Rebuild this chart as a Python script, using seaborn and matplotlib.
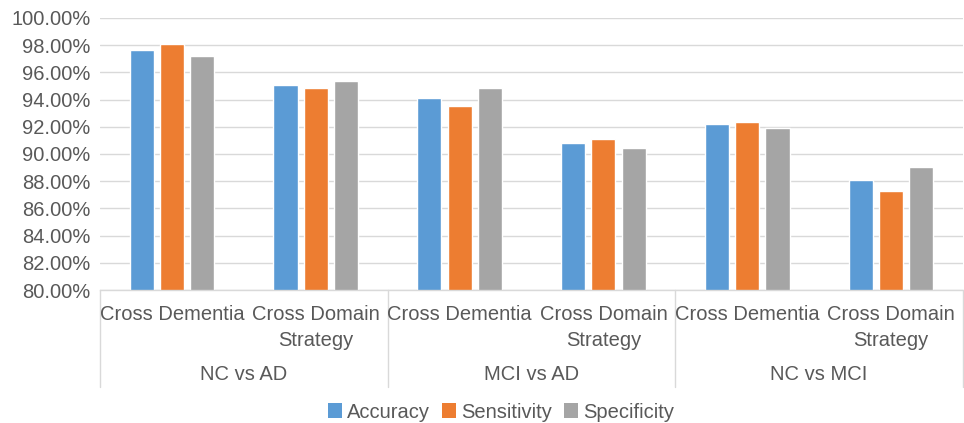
import numpy as np
import pandas as pd
import matplotlib
matplotlib.use("Agg")
import matplotlib.pyplot as plt
import matplotlib.transforms as mtransforms
from matplotlib.patches import Patch
import seaborn as sns

# Data
comparisons = ["NC vs AD", "MCI vs AD", "NC vs MCI"]
strategies = ["Cross Dementia", "Cross Domain\nStrategy"]
metrics = ["Accuracy", "Sensitivity", "Specificity"]
accuracy = [97.65, 95.10, 94.15, 90.80, 92.18, 88.07]
sensitivity = [98.08, 94.82, 93.55, 91.07, 92.35, 87.25]
specificity = [97.17, 95.37, 94.82, 90.45, 91.93, 89.07]
yticks = [80, 82, 84, 86, 88, 90, 92, 94, 96, 98, 100]

palette = ["#5B9BD5", "#ED7D31", "#A5A5A5"]
text_color = "#595959"
line_color = "#D9D9D9"
fs = 14.5

slots = [f"{c}|{s}" for c in comparisons for s in strategies]
rows = []
for m, vals in zip(metrics, [accuracy, sensitivity, specificity]):
    for slot, v in zip(slots, vals):
        rows.append({"slot": slot, "metric": m, "value": v})
df = pd.DataFrame(rows)

sns.set_theme(style="white")
plt.rcParams["font.family"] = ["Liberation Sans", "DejaVu Sans"]

fig = plt.figure(figsize=(9.64, 4.23), dpi=100)
ax = fig.add_axes([100 / 964, 1 - 290 / 423, 863 / 964, 272 / 423])

sns.barplot(data=df, x="slot", y="value", hue="metric", order=slots,
            hue_order=metrics, palette=palette, width=0.63, gap=0.2,
            saturation=1, legend=False, ax=ax)

ax.set_xlim(-0.5, len(slots) - 0.5)
ax.set_ylim(80, 100)
ax.set_yticks(yticks)
ax.set_yticklabels([f"{t:.2f}%" for t in yticks])
ax.set_xticks([])
ax.set_xlabel("")
ax.set_ylabel("")
ax.yaxis.grid(True, color=line_color, lw=1)
ax.set_axisbelow(True)
for side in ["top", "right", "left"]:
    ax.spines[side].set_visible(False)
ax.spines["bottom"].set_color(line_color)
ax.spines["bottom"].set_linewidth(1)
ax.tick_params(axis="y", length=0, pad=7, labelsize=fs, labelcolor=text_color)

# Hierarchical category axis
trans = mtransforms.blended_transform_factory(ax.transData, ax.transAxes)
n_s = len(strategies)
for k in range(len(comparisons) + 1):
    xb = k * n_s - 0.5
    ax.plot([xb, xb], [0, -97 / 272], transform=trans, color=line_color,
            lw=1, clip_on=False)
for i, slot in enumerate(slots):
    label = slot.split("|")[1]
    ax.text(i, -15 / 272, label, transform=trans, ha="center", va="top",
            fontsize=fs, color=text_color, linespacing=1.45)
for k, comp in enumerate(comparisons):
    xc = k * n_s + (n_s - 1) / 2
    ax.text(xc, -84 / 272, comp, transform=trans, ha="center", va="center",
            fontsize=fs, color=text_color)

handles = [Patch(facecolor=c, edgecolor="none", label=m)
           for c, m in zip(palette, metrics)]
leg = fig.legend(handles=handles, loc="center",
                 bbox_to_anchor=(501 / 964, 1 - 412 / 423), ncol=3,
                 frameon=False, handlelength=0.7, handleheight=0.7,
                 handletextpad=0.25, columnspacing=0.6, fontsize=fs)
for t in leg.get_texts():
    t.set_color(text_color)

fig.savefig("out.png", dpi=100)
